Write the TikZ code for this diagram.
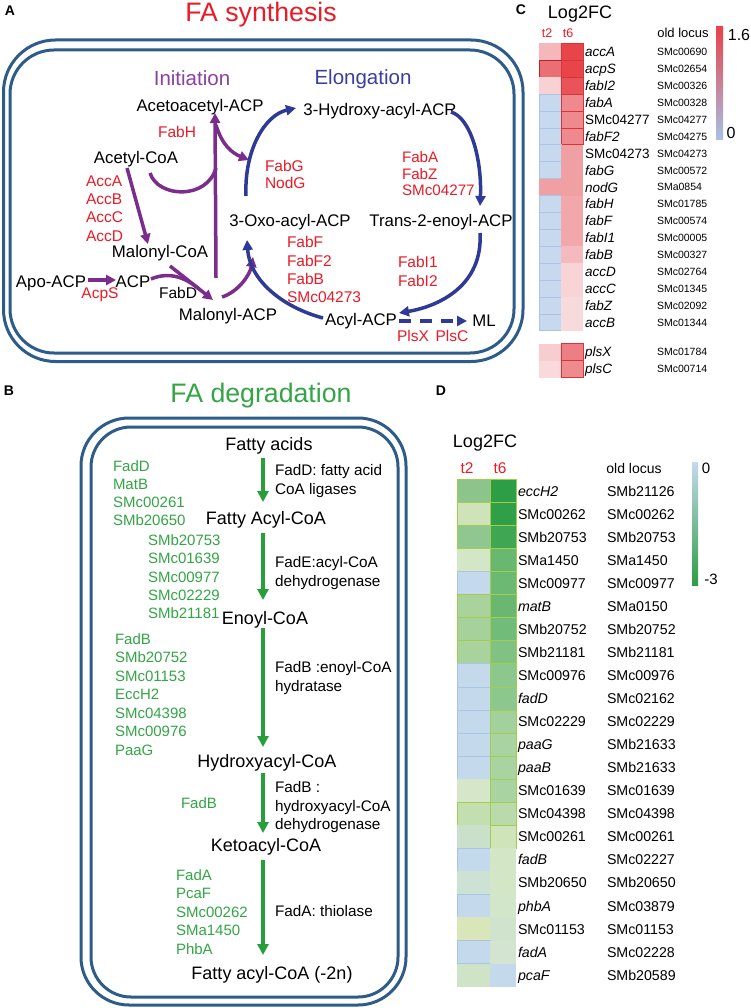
\documentclass[tikz,border=0pt]{standalone}
\usepackage{fontspec}
\setmainfont{Liberation Sans}
\usetikzlibrary{arrows.meta}
\definecolor{boxc}{HTML}{2D5C8A}
\definecolor{synred}{HTML}{E81C28}
\definecolor{purp}{HTML}{7B2C8C}
\definecolor{purptxt}{HTML}{8E3FA0}
\definecolor{elblue}{HTML}{2E3A96}
\definecolor{eltxt}{HTML}{3A3FA0}
\definecolor{degg}{HTML}{34A547}
\definecolor{garrc}{HTML}{27A03C}
% heatmap C
\definecolor{cbl}{HTML}{C6D9EE}
\definecolor{cblb}{HTML}{A9C5E3}
\definecolor{cRb}{HTML}{D8343A}
\definecolor{cRd}{HTML}{B0282E}
\definecolor{cA}{HTML}{F5B7BA}
\definecolor{cR1}{HTML}{E8454B}
\definecolor{cR2}{HTML}{EA6E73}
\definecolor{cR3}{HTML}{F8D1D4}
\definecolor{cR4}{HTML}{E9545A}
\definecolor{cR5}{HTML}{EE898D}
\definecolor{cR6}{HTML}{F0A0A3}
\definecolor{cR7}{HTML}{F2A8AB}
\definecolor{cR8}{HTML}{F5BABD}
\definecolor{cR9}{HTML}{F9D4D6}
\definecolor{cR10}{HTML}{F7DADC}
\definecolor{cP1}{HTML}{F8CDD0}
\definecolor{cP2}{HTML}{EC7F83}
\definecolor{cP3}{HTML}{F9D9DB}
\definecolor{cP4}{HTML}{EE8B8F}
\definecolor{cbt}{HTML}{E8424A}
\definecolor{cbm}{HTML}{ECC8D0}
\definecolor{cbb}{HTML}{A6C2E6}
% heatmap D
\definecolor{dbl}{HTML}{C5D9EC}
\definecolor{dblb}{HTML}{A8C6E2}
\definecolor{dgb}{HTML}{A3CE4C}
\definecolor{dgA}{HTML}{8CC48C}
\definecolor{dgB}{HTML}{2E9E46}
\definecolor{dgC}{HTML}{CFE3BA}
\definecolor{dgD}{HTML}{2FA047}
\definecolor{dgE}{HTML}{90C68F}
\definecolor{dgF}{HTML}{3FA654}
\definecolor{dgG}{HTML}{D3E6C6}
\definecolor{dgH}{HTML}{68B872}
\definecolor{dgI}{HTML}{6CB974}
\definecolor{dgJ}{HTML}{A9D29C}
\definecolor{dgK}{HTML}{69B771}
\definecolor{dgL}{HTML}{A7D19B}
\definecolor{dgM}{HTML}{72BC79}
\definecolor{dgN}{HTML}{7FC284}
\definecolor{dgO}{HTML}{8CC88D}
\definecolor{dgP}{HTML}{A2D19D}
\definecolor{dgQ}{HTML}{A9D4A2}
\definecolor{dgR}{HTML}{D6E7C9}
\definecolor{dgS}{HTML}{C3DFB0}
\definecolor{dgT}{HTML}{B9DAAA}
\definecolor{dgU}{HTML}{CBE0CA}
\definecolor{dgV}{HTML}{CFE4B9}
\definecolor{dgW}{HTML}{D3E7C6}
\definecolor{dgX}{HTML}{CDE2D5}
\definecolor{dgY}{HTML}{D2E6C9}
\definecolor{dgZ}{HTML}{D8E6BA}
\definecolor{dgAA}{HTML}{CFE3CD}
\definecolor{dgAB}{HTML}{D3E5D1}
\definecolor{dgAC}{HTML}{CFE4C7}
\definecolor{dbt}{HTML}{C5D9EC}
\definecolor{dbm}{HTML}{C8E1B2}
\definecolor{dbb}{HTML}{2E9E44}
\tikzset{
  tx/.style={inner sep=0pt, outer sep=0pt},
  one/.style={tx, text depth=0pt},
  panel/.style={one, font=\bfseries\fontsize{14}{16}\selectfont, text height=10pt},
  title/.style={one, font=\fontsize{26.7}{30}\selectfont, text height=19.1pt},
  phase/.style={one, font=\fontsize{20.5}{24}\selectfont, text height=14.7pt},
  met/.style={one, font=\fontsize{16.8}{20}\selectfont, text height=12pt},
  bmet/.style={one, font=\fontsize{18}{21}\selectfont, text height=12.9pt},
  enz/.style={one, text=synred, font=\fontsize{15.5}{18}\selectfont, text height=11.1pt},
  elist/.style={tx, text=synred, align=left, anchor=north west},
  glist/.style={tx, text=degg, align=left, anchor=north west},
  desc/.style={tx, align=left, anchor=north west, font=\fontsize{15.3}{18.5}\selectfont},
  boxline/.style={draw=boxc, line width=3pt},
  pline/.style={draw=purp, line width=3.5pt},
  parr/.style={pline, -{Triangle[length=10pt,width=10pt]}},
  barr/.style={draw=elblue, line width=3.5pt, -{Triangle[length=10pt,width=10pt]}},
  garrow/.style={draw=garrc, line width=4pt, -{Triangle[length=11pt,width=11pt]}},
  cgene/.style={one, anchor=west, font=\fontsize{13.5}{16}\selectfont, text height=9.7pt},
  cloc/.style={one, anchor=west, font=\fontsize{10.5}{12}\selectfont, text height=7.5pt},
  dgene/.style={one, anchor=west, font=\fontsize{14.2}{16}\selectfont, text height=10.2pt},
}
\begin{document}
\begin{tikzpicture}[x=1pt,y=-1pt]
\useasboundingbox (0,0) rectangle (750,1008);
\fill[white] (0,0) rectangle (750,1008);

% ================= Panel A =================
\node[panel] (pA) at (10,11) {A};
\node[title, text=synred] (tA) at (261,12) {FA synthesis};
\draw[boxline, rounded corners=52pt] (3.5,40) rectangle (523,361.5);
\draw[boxline, rounded corners=44pt] (10,50) rectangle (514,353);
\node[phase, text=purptxt] (init) at (192,78) {Initiation};
\node[phase, text=eltxt] (elong) at (363,77) {Elongation};

\node[met] (acetoacp) at (200,106) {Acetoacetyl-ACP};
\node[met] (hydroxy) at (380,110) {3-Hydroxy-acyl-ACR};
\node[met] (acetylcoa) at (136,158) {Acetyl-CoA};
\node[met] (oxo) at (290,220) {3-Oxo-acyl-ACP};
\node[met] (trans) at (441,221) {Trans-2-enoyl-ACP};
\node[met] (malcoa) at (160,252) {Malonyl-CoA};
\node[met] (apo) at (51,281) {Apo-ACP};
\node[met] (acp) at (133,281) {ACP};
\node[met] (malacp) at (228,314) {Malonyl-ACP};
\node[met] (acylacp) at (361,319) {Acyl-ACP};
\node[met] (ml) at (484,320) {ML};

\node[enz] (fabh) at (177,132) {FabH};
\node[enz] (acps) at (100,293) {AcpS};
\node[enz, text=black] (fabd) at (178,293) {FabD};
\node[enz] (plsx) at (413,336) {PlsX};
\node[enz] (plsc) at (452,336) {PlsC};
\node[elist, font=\fontsize{15.5}{18.3}\selectfont] (acc) at (86,175.5) {AccA\\AccB\\AccC\\AccD};
\node[elist, font=\fontsize{15.5}{17}\selectfont] (fabg) at (265,160.5) {FabG\\NodG};
\node[elist, font=\fontsize{15.2}{16.5}\selectfont] (faba) at (402,151.5) {FabA\\FabZ\\SMc04277};
\node[elist, font=\fontsize{15.5}{18.3}\selectfont] (fabf) at (287,236.5) {FabF\\FabF2\\FabB\\SMc04273};
\node[elist, font=\fontsize{15.5}{19}\selectfont] (fabi) at (398,256.5) {FabI1\\FabI2};

% purple connectors
\draw[parr] ([shift={(-9,10)}]acetylcoa.center) -- ([shift={(-12,-8)}]malcoa.center);
\draw[parr] ([shift={(37,-1)}]apo.center) -- ([shift={(-17,-1)}]acp.center);
\draw[parr] ([shift={(10,14)}]malcoa.center) -- ([shift={(-15,-14)}]malacp.center);
\draw[pline] ([shift={(18,-2)}]acp.center) .. controls (170,271) and (186,278) .. ([shift={(-29,-25)}]malacp.center);
\draw[parr] ([shift={(-6,-17)}]malacp.center) .. controls (238,292) and (250,275) .. ([shift={(-37,37)}]oxo.center);
\draw[parr] ([shift={(-12,-36)}]malacp.center) -- ([shift={(15,7)}]acetoacp.center);
\draw[pline] ([shift={(14,15)}]acetylcoa.center) .. controls (158,198) and (207,200) .. ([shift={(16,62)}]acetoacp.center);
\draw[parr] ([shift={(16,19)}]acetoacp.center) .. controls (222,145) and (232,153) .. ([shift={(-41,-60)}]oxo.center);

% blue connectors
\draw[barr] ([shift={(-44,-24)}]oxo.center) .. controls (244,150) and (265,115) .. ([shift={(-84,-2)}]hydroxy.center);
\draw[barr] ([shift={(71,2)}]hydroxy.center) .. controls (471,118) and (482,160) .. ([shift={(39,-15)}]trans.center);
\draw[barr] ([shift={(39,12)}]trans.center) .. controls (483,285) and (440,306) .. ([shift={(38,-6)}]acylacp.center);
\draw[barr] ([shift={(-38,-1)}]acylacp.center) .. controls (285,308) and (250,282) .. ([shift={(-43,20)}]oxo.center);
\draw[barr, dash pattern=on 12pt off 9pt] ([shift={(38,2)}]acylacp.center) -- ([shift={(-17,1)}]ml.center);

% ================= Panel C =================
\node[panel] (pC) at (521,10) {C};
\node[one, font=\fontsize{18}{21}\selectfont, text height=12.9pt] (logc) at (580,12) {Log2FC};
\node[one, text=synred, font=\fontsize{12.5}{14}\selectfont, text height=9pt] (ct2) at (547,33) {t2};
\node[one, text=synred, font=\fontsize{12.5}{14}\selectfont, text height=9pt] (ct6) at (568,33) {t6};
\node[one, font=\fontsize{13}{15}\selectfont, text height=9.3pt] (coldl) at (683,33) {old locus};
\shade[top color=cbt, middle color=cbm, bottom color=cbb] (716,27) rectangle (723,140);
\node[one, font=\fontsize{16}{18}\selectfont, text height=11.5pt] (c16) at (739,35) {1.6};
\node[one, font=\fontsize{16}{18}\selectfont, text height=11.5pt] (c0) at (731,133) {0};
\foreach \i/\ca/\da/\cb/\db/\g/\l in {
0/cA/none/cR1/cRb/\textit{accA}/SMc00690,
1/cR2/cRd/cR1/cRb/\textit{acpS}/SMc02654,
2/cR3/none/cR4/cRb/\textit{fabI2}/SMc00326,
3/cbl/cblb/cR5/cRb/\textit{fabA}/SMc00328,
4/cbl/cblb/cR5/cRb/SMc04277/SMc04277,
5/cbl/cblb/cR5/cRb/\textit{fabF2}/SMc04275,
6/cbl/cblb/cR6/none/SMc04273/SMc04273,
7/cbl/cblb/cR6/none/\textit{fabG}/SMc00572,
8/cR6/none/cR6/none/\textit{nodG}/SMa0854,
9/cbl/cblb/cR7/none/\textit{fabH}/SMc01785,
10/cbl/cblb/cR7/none/\textit{fabF}/SMc00574,
11/cbl/cblb/cR7/none/\textit{fabI1}/SMc00005,
12/cbl/cblb/cR8/none/\textit{fabB}/SMc00327,
13/cbl/cblb/cR9/none/\textit{accD}/SMc02764,
14/cbl/cblb/cR9/none/\textit{accC}/SMc01345,
15/cbl/cblb/cR10/none/\textit{fabZ}/SMc02092,
16/cbl/cblb/cR10/none/\textit{accB}/SMc01344}{
  \path[fill=\ca, draw=\da, line width=0.8pt] (539,43.5+16.9*\i) rectangle ++(22,16.9);
  \path[fill=\cb, draw=\db, line width=0.8pt] (561,43.5+16.9*\i) rectangle ++(22,16.9);
  \node[cgene] (cg\i) at (585,52+16.9*\i) {\g};
  \node[cloc] (cl\i) at (657,52+16.9*\i) {\l};
}
\path[fill=cP1] (539,343.5) rectangle ++(22,17);
\path[fill=cP2, draw=cRb, line width=0.8pt] (561,343.5) rectangle ++(22,17);
\path[fill=cP3] (539,360.5) rectangle ++(22,17);
\path[fill=cP4, draw=cRb, line width=0.8pt] (561,360.5) rectangle ++(22,17);
\node[cgene] (cgx) at (585,352) {\textit{plsX}};
\node[cloc] (clx) at (657,352) {SMc01784};
\node[cgene] (cgc) at (585,369) {\textit{plsC}};
\node[cloc] (clc) at (657,369) {SMc00714};

% ================= Panel B =================
\node[panel] (pB) at (9,390) {B};
\node[title, text=degg] (tB) at (261,393) {FA degradation};
\draw[boxline, rounded corners=48pt] (81,418) rectangle (406,1005);
\draw[boxline, rounded corners=40pt] (91,427) rectangle (398,997);

\node[bmet] (fa) at (269,444) {Fatty acids};
\node[bmet] (fac) at (266,518) {Fatty Acyl-CoA};
\node[bmet] (enoyl) at (265,618) {Enoyl-CoA};
\node[bmet] (hyd) at (267,761) {Hydroxyacyl-CoA};
\node[bmet] (keto) at (266,845) {Ketoacyl-CoA};
\node[bmet] (fin) at (272,973) {Fatty acyl-CoA (-2n)};

\draw[garrow] ([shift={(-6,14)}]fa.center) -- ([shift={(-3,-16)}]fac.center);
\draw[garrow] ([shift={(-3,15)}]fac.center) -- ([shift={(-2,-18)}]enoyl.center);
\draw[garrow] ([shift={(-2,10)}]enoyl.center) -- ([shift={(-4,-14)}]hyd.center);
\draw[garrow] ([shift={(-4,12)}]hyd.center) -- ([shift={(-3,-12)}]keto.center);
\draw[garrow] ([shift={(-3,15)}]keto.center) -- ([shift={(-9,-18)}]fin.center);

\node[glist, font=\fontsize{15}{18}\selectfont] (gl1) at (113,460.6) {FadD\\MatB\\SMc00261\\SMb20650};
\node[glist, font=\fontsize{15}{18.3}\selectfont] (gl2) at (148,534.6) {SMb20753\\SMc01639\\SMc00977\\SMc02229\\SMb21181};
\node[glist, font=\fontsize{15}{18.5}\selectfont] (gl3) at (115,633.6) {FadB\\SMb20752\\SMc01153\\EccH2\\SMc04398\\SMc00976\\PaaG};
\node[one, text=degg, font=\fontsize{15}{18}\selectfont, text height=10.7pt] (gl4) at (199,803) {FadB};
\node[glist, font=\fontsize{15}{18.5}\selectfont] (gl5) at (176,869.6) {FadA\\PcaF\\SMc00262\\SMa1450\\PhbA};

\node[desc] (d1) at (275,464.5) {FadD: fatty acid\\CoA ligases};
\node[desc] (d2) at (275,556.5) {FadE:acyl-CoA\\dehydrogenase};
\node[desc] (d3) at (275,661.5) {FadB :enoyl-CoA\\hydratase};
\node[desc] (d4) at (275,781.5) {FadB :\\hydroxyacyl-CoA\\dehydrogenase};
\node[desc] (d5) at (275,905.5) {FadA: thiolase};

% ================= Panel D =================
\node[panel] (pD) at (441,390) {D};
\node[one, font=\fontsize{18}{21}\selectfont, text height=12.9pt] (logd) at (485,441) {Log2FC};
\node[one, text=synred, font=\fontsize{15.5}{18}\selectfont, text height=11.1pt] (dt2) at (467,468) {t2};
\node[one, text=synred, font=\fontsize{15.5}{18}\selectfont, text height=11.1pt] (dt6) at (500,468) {t6};
\node[one, font=\fontsize{14}{16}\selectfont, text height=10pt] (doldl) at (634,468) {old locus};
\shade[top color=dbt, middle color=dbm, bottom color=dbb] (692,462) rectangle (698,585);
\node[one, font=\fontsize{15}{17}\selectfont, text height=10.7pt] (d0) at (706,468) {0};
\node[one, font=\fontsize{15}{17}\selectfont, text height=10.7pt] (dm3) at (711,579) {-3};
\foreach \i/\ca/\da/\cb/\db/\g/\l in {
0/dgA/dgb/dgB/dgb/\textit{eccH2}/SMb21126,
1/dgC/dgb/dgD/dgb/SMc00262/SMc00262,
2/dgE/dgb/dgF/dgb/SMb20753/SMb20753,
3/dgG/none/dgH/dgb/SMa1450/SMa1450,
4/dbl/dblb/dgI/dgb/SMc00977/SMc00977,
5/dgJ/dgb/dgK/dgb/\textit{matB}/SMa0150,
6/dgL/dgb/dgM/dgb/SMb20752/SMb20752,
7/dgJ/dgb/dgN/dgb/SMb21181/SMb21181,
8/dbl/dblb/dgO/dgb/SMc00976/SMc00976,
9/dbl/dblb/dgO/dgb/\textit{fadD}/SMc02162,
10/dbl/dblb/dgP/dgb/SMc02229/SMc02229,
11/dbl/dblb/dgQ/dgb/\textit{paaG}/SMb21633,
12/dbl/dblb/dgQ/dgb/\textit{paaB}/SMb21633,
13/dgR/none/dgQ/dgb/SMc01639/SMc01639,
14/dgS/dgb/dgT/dgb/SMc04398/SMc04398,
15/dgU/none/dgV/dgb/SMc00261/SMc00261,
16/dbl/dblb/dgW/none/\textit{fadB}/SMc02227,
17/dgX/none/dgW/none/SMb20650/SMb20650,
18/dbl/dblb/dgY/none/\textit{phbA}/SMc03879,
19/dgZ/none/dgAA/none/SMc01153/SMc01153,
20/dbl/dblb/dgAB/none/\textit{fadA}/SMc02228,
21/dgAC/none/dbl/none/\textit{pcaF}/SMb20589}{
  \path[fill=\ca, draw=\da, line width=0.9pt] (457,479.5+23.05*\i) rectangle ++(33,23.05);
  \path[fill=\cb, draw=\db, line width=0.9pt] (490,479.5+23.05*\i) rectangle ++(26,23.05);
  \node[dgene] (dg\i) at (518,491+23.05*\i) {\g};
  \node[dgene] (dl\i) at (607,491+23.05*\i) {\l};
}
\end{tikzpicture}
\end{document}
